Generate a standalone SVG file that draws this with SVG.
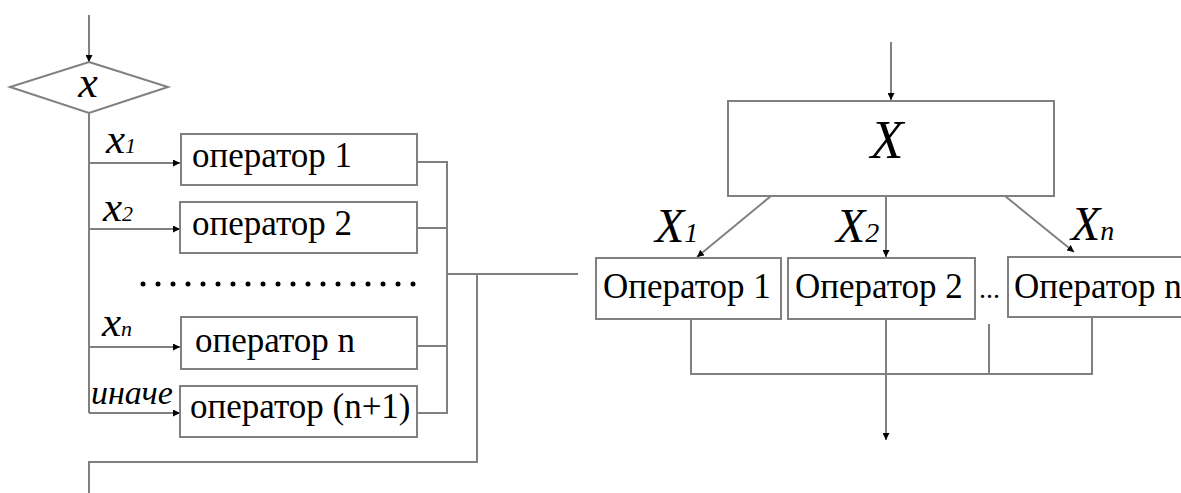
<svg xmlns="http://www.w3.org/2000/svg" width="1181" height="493" viewBox="0 0 1181 493">
<style>
.ln{fill:none;stroke:#808080;stroke-width:2}
.bx{fill:#fff;stroke:#808080;stroke-width:2}
</style>
<defs>
<marker id="ah" viewBox="0 0 10 10" refX="10" refY="5" markerWidth="7" markerHeight="7" markerUnits="userSpaceOnUse" orient="auto">
<path d="M0,0 L10,5 L0,10 z" fill="#000"/>
</marker>
</defs>
<g id="connectors">
<path class="ln" d="M89,15 V62" marker-end="url(#ah)"/>
<path class="ln" d="M89,113 V413"/>
<path class="ln" d="M89,163 H180" marker-end="url(#ah)"/>
<path class="ln" d="M89,229 H180" marker-end="url(#ah)"/>
<path class="ln" d="M89,347 H180" marker-end="url(#ah)"/>
<path class="ln" d="M89,413 H180" marker-end="url(#ah)"/>
<path class="ln" d="M417,162 H447 V413 H417"/>
<path class="ln" d="M417,228 H447"/>
<path class="ln" d="M417,346 H447"/>
<path class="ln" d="M447,274 H578"/>
<path class="ln" d="M477,274 V462 H89 V493"/>
<path class="ln" d="M891,42 V100" marker-end="url(#ah)"/>
<path class="ln" d="M771,196 L697,257" marker-end="url(#ah)"/>
<path class="ln" d="M886,196 V257" marker-end="url(#ah)"/>
<path class="ln" d="M1005,196 L1074,252" marker-end="url(#ah)"/>
<path class="ln" d="M691,319 V374 H1092 V317"/>
<path class="ln" d="M989,324 V374"/>
<path class="ln" d="M886,319 V440" marker-end="url(#ah)"/>
</g>
<g id="dots" fill="#000">
<circle cx="143" cy="284" r="2.5"/><circle cx="158" cy="284" r="2.5"/><circle cx="173" cy="284" r="2.5"/><circle cx="188" cy="284" r="2.5"/><circle cx="203" cy="284" r="2.5"/><circle cx="218" cy="284" r="2.5"/><circle cx="233" cy="284" r="2.5"/><circle cx="248" cy="284" r="2.5"/><circle cx="263" cy="284" r="2.5"/><circle cx="278" cy="284" r="2.5"/><circle cx="293" cy="284" r="2.5"/><circle cx="308" cy="284" r="2.5"/><circle cx="323" cy="284" r="2.5"/><circle cx="338" cy="284" r="2.5"/><circle cx="353" cy="284" r="2.5"/><circle cx="368" cy="284" r="2.5"/><circle cx="383" cy="284" r="2.5"/><circle cx="398" cy="284" r="2.5"/><circle cx="413" cy="284" r="2.5"/>
</g>
<g id="decision">
<path class="bx" d="M89,62 L168,87 L89,113 L10,87 Z"/>
<text x="88" y="97" font-family="Liberation Serif" font-size="44" font-style="italic" text-anchor="middle">x</text>
</g>
<g id="labels-left">
<text x="106" y="153" font-family="Liberation Serif" font-size="43" font-style="italic">x<tspan font-size="22">1</tspan></text>
<text x="103" y="221" font-family="Liberation Serif" font-size="43" font-style="italic">x<tspan font-size="22">2</tspan></text>
<text x="102" y="336" font-family="Liberation Serif" font-size="43" font-style="italic">x<tspan font-size="22">n</tspan></text>
<text x="91" y="404" font-family="Liberation Serif" font-size="34" font-style="italic">иначе</text>
</g>
<g id="op1"><rect class="bx" x="181" y="134" width="236" height="51"/><text x="192" y="167" font-family="Liberation Serif" font-size="35">оператор 1</text></g>
<g id="op2"><rect class="bx" x="180" y="202" width="237" height="51"/><text x="192" y="235" font-family="Liberation Serif" font-size="35">оператор 2</text></g>
<g id="opn"><rect class="bx" x="181" y="317" width="236" height="52"/><text x="195" y="352" font-family="Liberation Serif" font-size="35">оператор n</text></g>
<g id="opn1"><rect class="bx" x="180" y="386" width="237" height="51"/><text x="190" y="418" font-family="Liberation Serif" font-size="35">оператор (n+1)</text></g>
<g id="selector"><rect class="bx" x="728" y="101" width="326" height="95"/><text x="887" y="158" font-family="Liberation Serif" font-size="54" font-style="italic" text-anchor="middle">X</text></g>
<g id="labels-right">
<text x="655" y="242" font-family="Liberation Serif" font-size="48" font-style="italic">X<tspan font-size="28">1</tspan></text>
<text x="836" y="242" font-family="Liberation Serif" font-size="48" font-style="italic">X<tspan font-size="28">2</tspan></text>
<text x="1071" y="240" font-family="Liberation Serif" font-size="48" font-style="italic">X<tspan font-size="28">n</tspan></text>
</g>
<g id="rop1"><rect class="bx" x="596" y="258" width="185" height="61"/><text x="603" y="298" font-family="Liberation Serif" font-size="35">Оператор 1</text></g>
<g id="rop2"><rect class="bx" x="788" y="258" width="187" height="61"/><text x="795" y="298" font-family="Liberation Serif" font-size="35">Оператор 2</text></g>
<text x="979" y="298" font-family="Liberation Serif" font-size="28">...</text>
<g id="ropn"><rect class="bx" x="1008" y="257" width="190" height="60"/><text x="1014" y="298" font-family="Liberation Serif" font-size="35">Оператор n</text></g>
</svg>
